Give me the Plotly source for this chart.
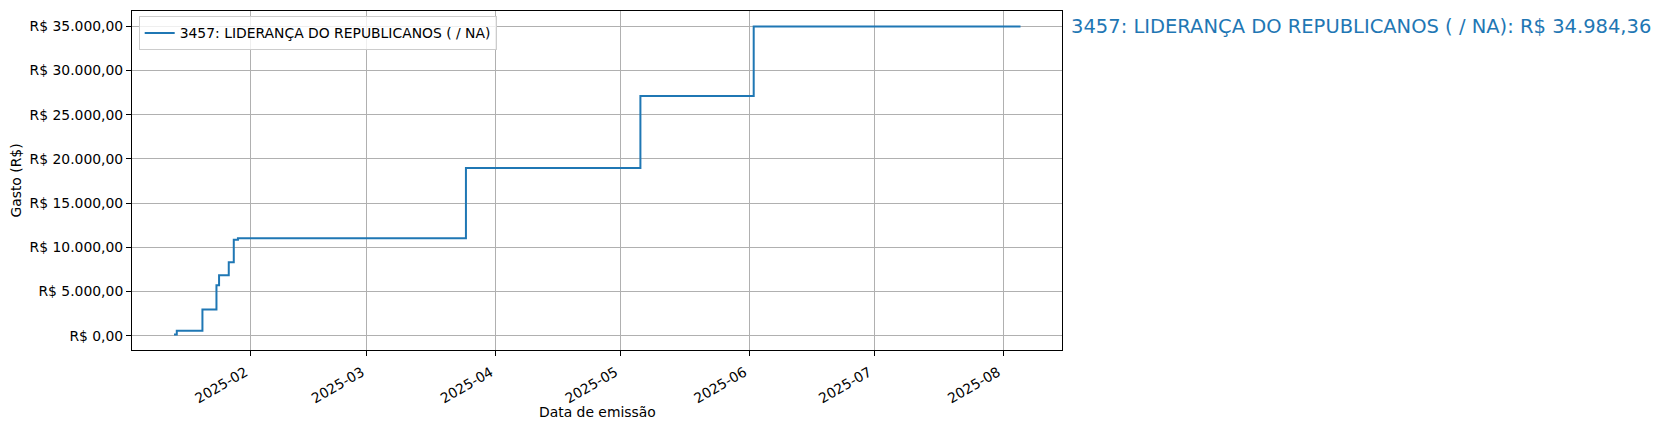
import plotly.graph_objects as go

# ---- data ----
dates = [
    "2025-01-13 15:00", "2025-01-14 07:00", "2025-01-20 11:00", "2025-01-23 20:00",
    "2025-01-24 11:00", "2025-01-26 19:00", "2025-01-28 00:00", "2025-01-29 00:00",
    "2025-03-24 20:00", "2025-05-05 19:00", "2025-06-02 01:00", "2025-08-05 05:00",
]
cumulative = [
    120, 550, 2960, 5700,
    6830, 8310, 10850, 11030,
    18980, 27100, 34984.36, 34984.36,
]
series_name = "3457: LIDERANÇA DO REPUBLICANOS ( / NA)"
x_title = "Data de emissão"
y_title = "Gasto (R$)"
x_range = ["2025-01-03 12:30", "2025-08-15 04:30"]
y_range = [-1623, 36727]

BLUE = "#1f77b4"
FONT = "DejaVu Sans"


def brl(v):
    s = f"{v:,.2f}"
    return "R$ " + s.replace(",", "X").replace(".", ",").replace("X", ".")


fig = go.Figure()
fig.add_trace(go.Scatter(
    x=dates, y=cumulative, mode="lines", name=series_name,
    line=dict(color=BLUE, width=2, shape="hv"),
))

fig.add_annotation(
    xref="paper", x=1.0077, xanchor="left",
    yref="y", y=cumulative[-1], yanchor="middle",
    text=f"{series_name}: {brl(cumulative[-1])}",
    showarrow=False, font=dict(family=FONT, size=19.5, color=BLUE),
)

# x-axis title placed as a paper annotation
fig.add_annotation(
    xref="paper", x=0.5, xanchor="center",
    yref="paper", y=-0.182, yanchor="middle",
    text=x_title, showarrow=False,
    font=dict(family=FONT, size=13.9, color="black"),
)

axis_common = dict(
    showline=True, mirror=True, linecolor="black", linewidth=1,
    ticks="outside", ticklen=5, tickwidth=1, tickcolor="black",
    showgrid=True, gridcolor="#b0b0b0", gridwidth=1, zeroline=False,
    tickfont=dict(family=FONT, size=13.9, color="black"),
)

fig.update_xaxes(
    **axis_common, type="date", range=x_range,
    dtick="M1", tick0="2025-01-01", tickformat="%Y-%m", tickangle=-30,
    ticklabelshift=-5, ticklabelstandoff=3,
)
fig.update_yaxes(
    **axis_common, range=y_range, dtick=5000, tick0=0,
    tickprefix="R$ ", tickformat=",.2f",
    title=dict(text=y_title, font=dict(family=FONT, size=13.9, color="black"), standoff=4),
)

fig.update_layout(
    width=1652, height=422,
    margin=dict(l=124, r=598, t=3, b=80, autoexpand=False),
    paper_bgcolor="white", plot_bgcolor="white",
    separators=",.",
    font=dict(family=FONT, size=13.9, color="black"),
    showlegend=True,
    legend=dict(
        x=0.0072, y=0.984, xanchor="left", yanchor="top",
        bgcolor="rgba(255,255,255,0.8)", bordercolor="#cccccc", borderwidth=1,
        font=dict(family=FONT, size=13.9, color="black"), itemwidth=30,
    ),
)

fig.write_html("out.html")
